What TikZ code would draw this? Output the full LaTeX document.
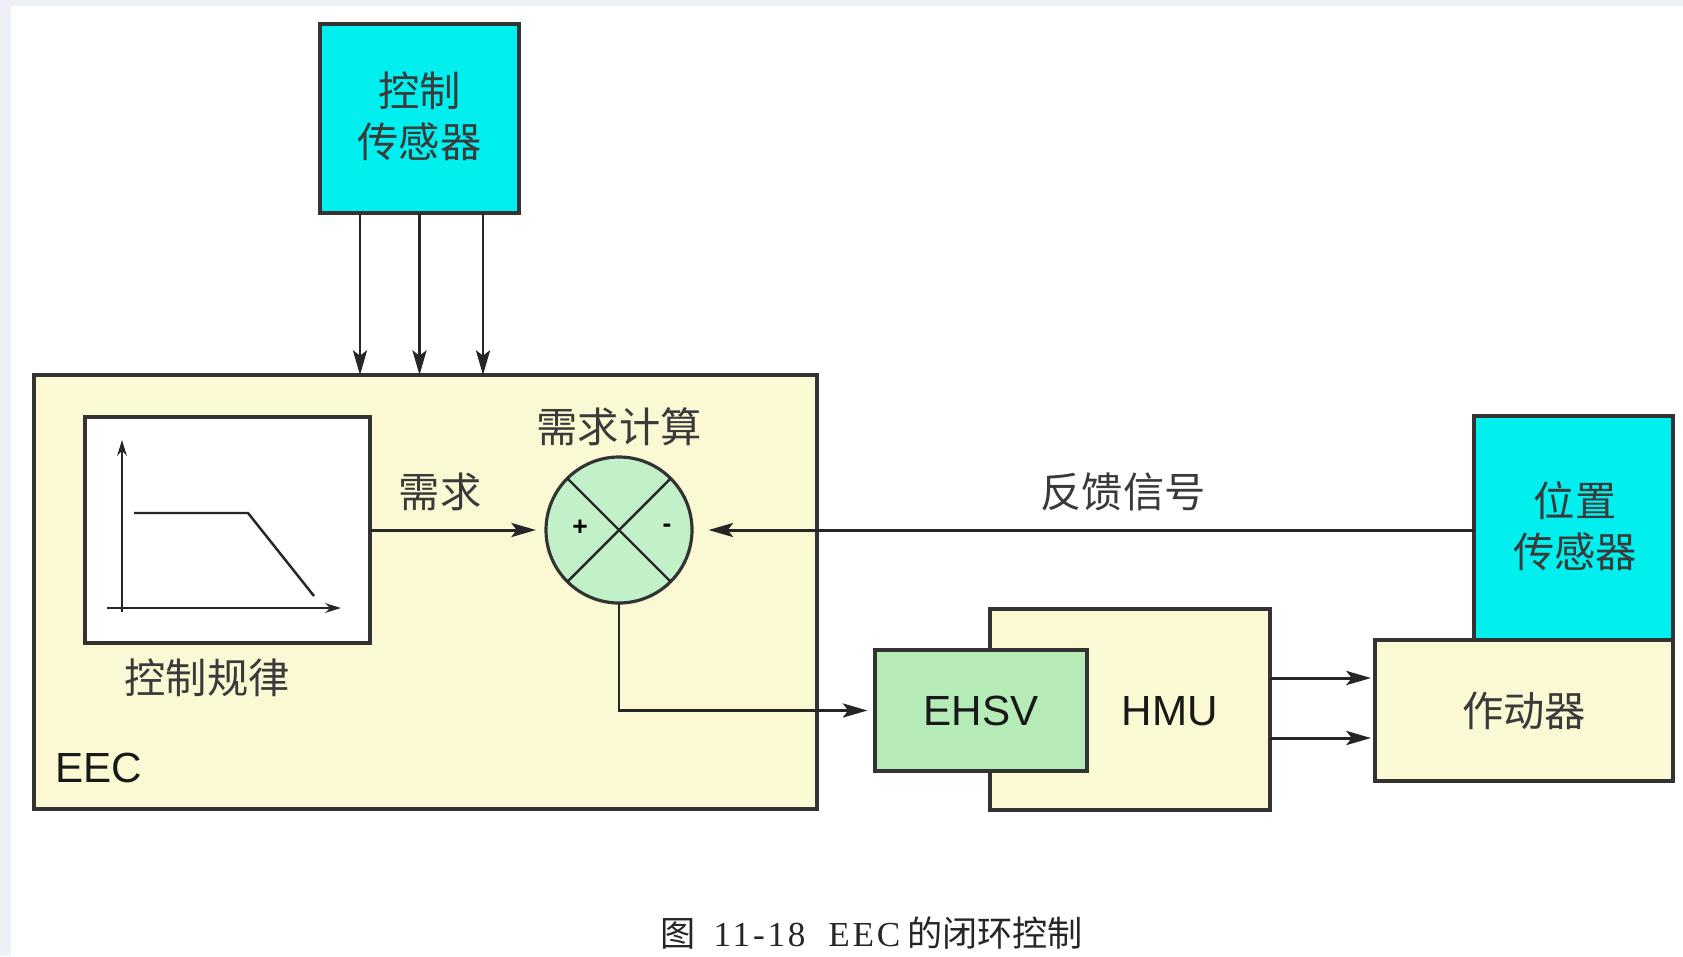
\documentclass[tikz,border=0pt]{standalone}
\usepackage{fontspec}
\setmainfont{Liberation Sans}
\newfontfamily\cjk{Noto Sans CJK SC}
\newfontfamily\capserif[LetterSpace=8]{Liberation Serif}
\usetikzlibrary{arrows.meta,positioning}
\definecolor{sensorcyan}{HTML}{00F0F0}
\definecolor{eecyellow}{HTML}{FBF9D4}
\definecolor{valvegreen}{HTML}{B4EBB6}
\definecolor{sumgreen}{HTML}{C2F0C8}
\definecolor{boxline}{HTML}{333333}
\definecolor{txtgrey}{HTML}{3A3A3A}
\definecolor{edgeblue}{HTML}{EDF1F7}

\begin{document}
\begin{tikzpicture}[x=0.2mm,y=-0.2mm,
  blk/.style={draw=boxline,line width=1.8pt,inner sep=0pt,outer sep=0pt},
  arr/.style={draw=black!85,line width=1.7pt,-{Stealth[length=14pt,width=8pt,inset=3pt]}},
  gline/.style={draw=black!85,line width=1.4pt},
  cjktxt/.style={inner sep=0pt,text=txtgrey,align=center,
    font=\cjk\fontsize{23.5pt}{29pt}\selectfont},
  latxt/.style={inner sep=0pt,text=black!90,font=\fontsize{24pt}{29pt}\selectfont}]
% page
\fill[white] (0,0) rectangle (1683,956);
\fill[edgeblue] (0,0) rectangle (11,956);
\fill[edgeblue] (0,0) rectangle (1683,6);
\useasboundingbox (0,0) rectangle (1683,956);
% blocks
\node[blk,fill=sensorcyan,minimum width=39.8mm,minimum height=37.8mm] (ctrlsens) at (419.5,118.5) {};
\node[cjktxt] at (419.5,116) {控制\\传感器};
\node[blk,fill=eecyellow,minimum width=156.6mm,minimum height=86.8mm] (eec) at (425.5,592) {};
\node[latxt,anchor=west] (eectxt) at (55,768) {EEC};
\node[blk,fill=white,minimum width=57mm,minimum height=45.2mm] (law) at (227.5,530) {};
\node[cjktxt] (lawtxt) at (207,678) {控制规律};
\node[blk,circle,fill=sumgreen,minimum size=29.2mm] (sum) at (619,530) {};
\node[cjktxt] (sumtxt) at (619,427) {需求计算};
\node[blk,fill=sensorcyan,minimum width=39.8mm,minimum height=44.8mm] (possens) at (1573.5,528) {};
\node[cjktxt] at (1575,526) {位置\\传感器};
\node[blk,fill=eecyellow,minimum width=59.6mm,minimum height=28.2mm,
  cjktxt] (act) at (1524,710.5) {作动器};
\node[blk,fill=eecyellow,minimum width=56mm,minimum height=40.2mm] (hmu) at (1130,709.5) {};
\node[latxt] (hmutxt) at (1170,711) {HMU};
\node[blk,fill=valvegreen,minimum width=42.4mm,minimum height=24.2mm,
  latxt] (ehsv) at (981,710.5) {EHSV};
% control law curve
\draw[gline,-{Stealth[length=9pt,width=5.5pt]}] (122,612) -- (122,440);
\draw[gline,-{Stealth[length=9pt,width=5.5pt]}] (107,608) -- (341,608);
\draw[gline] (134,513) -- (248,513) -- (314,596);
% summing junction
\draw[gline] (sum.north west) -- (sum.south east);
\draw[gline] (sum.north east) -- (sum.south west);
\node[inner sep=0pt,font=\bfseries\fontsize{15pt}{15pt}\selectfont] (plus) at (580,528) {+};
\node[inner sep=0pt,font=\bfseries\fontsize{15pt}{15pt}\selectfont] (minus) at (667,528) {-};
% signals
\foreach \dx in {-11.9mm,0mm,12.7mm}
  \draw[arr] ([xshift=\dx]ctrlsens.south) -- ([xshift=\dx]ctrlsens.south |- eec.north);
\draw[arr,shorten >=2mm] (law.east |- sum.west) -- (sum.west);
\node[cjktxt] (demand) at (440,492) {需求};
\draw[arr,shorten >=3.3mm] (possens.west |- sum.east) -- (sum.east);
\node[cjktxt] (fb) at (1123,492) {反馈信号};
\draw[arr,shorten >=1.5mm] (sum.south) |- (ehsv.west);
\foreach \dy in {6.3mm,-5.7mm}
  \draw[arr,shorten >=0.8mm] ([yshift=\dy]hmu.east) -- ([yshift=\dy]hmu.east -| act.west);
% caption
\node[inner sep=0pt,text=black!85,font=\fontsize{20pt}{24pt}\selectfont] (caption) at (872,933)
  {{\cjk 图}\hspace{10pt}{\capserif 11-18\hspace{13pt}EEC}\hspace{4pt}{\cjk 的闭环控制}};
\end{tikzpicture}
\end{document}
